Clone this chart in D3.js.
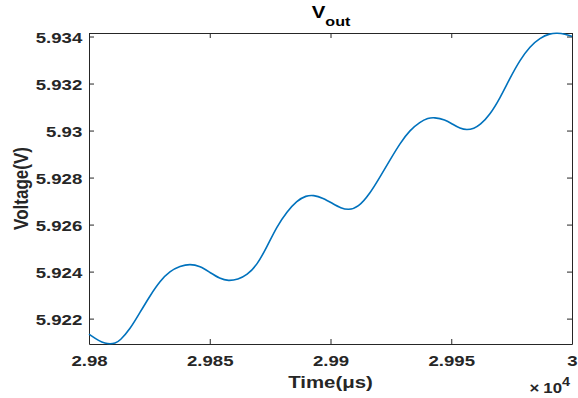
<!DOCTYPE html>
<html>
<head>
<meta charset="utf-8">
<script src="https://cdn.jsdelivr.net/npm/d3@7"></script>
<style>
  html, body { margin: 0; padding: 0; background: #fff; }
  svg { display: block; }
  text { font-family: "Liberation Sans", Arial, Helvetica, sans-serif; font-weight: bold; fill: #262626; }
</style>
</head>
<body>
<svg id="chart" width="578" height="398"></svg>
<script>
// Output voltage samples: time in microseconds, voltage in volts
const timeUs = [29800.0, 29804.3, 29806.6, 29808.7, 29810.8, 29812.8, 29817.0, 29821.1, 29825.3, 29829.4,
  29833.5, 29837.7, 29841.8, 29846.0, 29850.1, 29854.2, 29857.7, 29861.7, 29865.4, 29869.6,
  29873.7, 29877.8, 29882.0, 29886.1, 29889.9, 29892.9, 29896.9, 29901.0, 29904.3, 29907.4,
  29911.4, 29916.4, 29920.5, 29924.6, 29928.8, 29932.9, 29937.1, 29940.4, 29942.9, 29947.4,
  29950.7, 29953.6, 29956.5, 29959.4, 29961.9, 29966.0, 29970.2, 29974.3, 29978.5, 29982.6,
  29986.7, 29990.9, 29993.8, 29997.1, 30000.0];
const voltage = [5.92134, 5.92104, 5.92095, 5.92092, 5.92095, 5.92106, 5.92155, 5.92226, 5.92298, 5.92360,
  5.92402, 5.92423, 5.92433, 5.92423, 5.92396, 5.92370, 5.92360, 5.92367, 5.92385, 5.92428,
  5.92506, 5.92592, 5.92655, 5.92702, 5.92723, 5.92726, 5.92713, 5.92689, 5.92670, 5.92662,
  5.92672, 5.92733, 5.92803, 5.92874, 5.92946, 5.93002, 5.93037, 5.93053, 5.93056, 5.93047,
  5.93026, 5.93009, 5.93002, 5.93009, 5.93023, 5.93067, 5.93138, 5.93223, 5.93301, 5.93358,
  5.93394, 5.93413, 5.93415, 5.93411, 5.93400];

// Tick values
const xTicks = [29800, 29850, 29900, 29950, 30000];
const yTicks = [5.922, 5.924, 5.926, 5.928, 5.93, 5.932, 5.934];

const titleMain = "V";
const titleSub = "out";
const xLabel = "Time(\u03BCs)";
const yLabel = "Voltage(V)";
const xExponent = "4";

const W = 578, H = 398;
const plot = { left: 89, right: 572, top: 33, bottom: 344 };
const stretch = 1.2;   // horizontal text widening
const tickLen = 5;

const svg = d3.select("#chart");
svg.append("rect").attr("width", W).attr("height", H).attr("fill", "#fff");

const x = d3.scaleLinear().domain([29800, 30000]).range([plot.left, plot.right]);
const y = d3.scaleLinear().domain(d3.extent(voltage)).range([plot.bottom, plot.top]);

const data = timeUs.map((t, i) => ({ t, v: voltage[i] }));

const xFmt = d => String(+(d / 1e4).toFixed(4));
const yFmt = d => String(+d.toFixed(3));

function styleAxis(g) {
  g.selectAll(".domain").attr("stroke", "#262626").attr("stroke-width", 1);
  g.selectAll(".tick line").attr("stroke", "#262626").attr("stroke-width", 1);
}

// Bottom axis with labels
const gx = svg.append("g").attr("transform", `translate(0,${plot.bottom})`)
  .call(d3.axisBottom(x).tickValues(xTicks).tickFormat(xFmt)
    .tickSizeInner(-tickLen).tickSizeOuter(0).tickPadding(11));
styleAxis(gx);
gx.selectAll(".tick text")
  .attr("font-size", 15.5).attr("fill", "#262626")
  .attr("font-family", null)
  .attr("transform", `scale(${stretch},1)`);

// Left axis with labels
const gy = svg.append("g").attr("transform", `translate(${plot.left},0)`)
  .call(d3.axisLeft(y).tickValues(yTicks).tickFormat(yFmt)
    .tickSizeInner(-tickLen).tickSizeOuter(0).tickPadding(0));
styleAxis(gy);
gy.selectAll(".tick text")
  .attr("font-size", 15.5).attr("fill", "#262626")
  .attr("font-family", null)
  .attr("x", -6.7 / stretch)
  .attr("dy", "0.36em")
  .attr("transform", `scale(${stretch},1)`);

// Top and right box edges with inward ticks
const gt = svg.append("g").attr("transform", `translate(0,${plot.top})`)
  .call(d3.axisBottom(x).tickValues(xTicks).tickFormat("")
    .tickSizeInner(tickLen).tickSizeOuter(0));
styleAxis(gt);
const gr = svg.append("g").attr("transform", `translate(${plot.right},0)`)
  .call(d3.axisLeft(y).tickValues(yTicks).tickFormat("")
    .tickSizeInner(tickLen).tickSizeOuter(0));
styleAxis(gr);

// Voltage trace, smoothed through the samples
const line = d3.line()
  .x(d => x(d.t))
  .y(d => y(d.v))
  .curve(d3.curveBasis);
svg.append("path")
  .datum(data)
  .attr("d", line)
  .attr("fill", "none")
  .attr("stroke", "#0072BD")
  .attr("stroke-width", 1.6)
  .attr("stroke-linejoin", "round");

// Title with subscript
const title = svg.append("text")
  .attr("transform", `translate(${(plot.left + plot.right) / 2 + 0.5},18.3) scale(${stretch},1)`)
  .attr("text-anchor", "middle")
  .style("fill", "#000");
title.append("tspan").attr("font-size", 17).text(titleMain);
title.append("tspan").attr("font-size", 13.4).attr("dy", 8).text(titleSub);

// Axis labels
svg.append("text")
  .attr("transform", `translate(${x(29900)},388.3) scale(${stretch},1)`)
  .attr("text-anchor", "middle")
  .attr("font-size", 17)
  .text(xLabel);

svg.append("text")
  .attr("transform", `translate(28.2,${(plot.top + plot.bottom) / 2}) scale(${stretch},1) rotate(-90)`)
  .attr("text-anchor", "middle")
  .attr("font-size", 17)
  .text(yLabel);

// Axis exponent marker
const expo = svg.append("text")
  .attr("transform", `translate(570,392.7) scale(${stretch},1)`)
  .attr("text-anchor", "end");
expo.append("tspan").attr("font-size", 14).text("\u00D7");
expo.append("tspan").attr("font-size", 14).attr("dx", 3.3).text("10");
expo.append("tspan").attr("font-size", 12).attr("dy", -6.7).text(xExponent);
</script>
</body>
</html>
